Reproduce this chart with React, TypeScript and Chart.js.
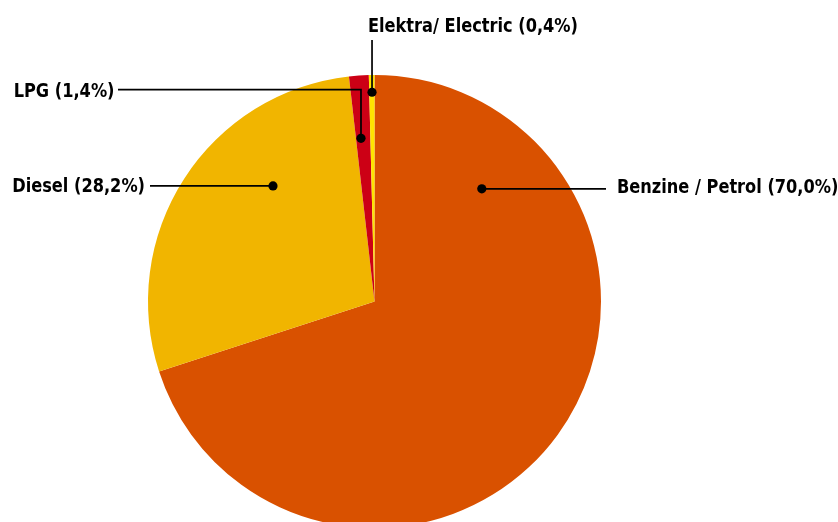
import React, { useEffect, useRef } from "react";
import { Chart, registerables } from "chart.js";

Chart.register(...registerables);

const categories = ["Benzine / Petrol", "Diesel", "LPG", "Elektra/ Electric"];
const shares = [70.0, 28.2, 1.4, 0.4];
const labelTexts = [
  "Benzine / Petrol (70,0%)",
  "Diesel (28,2%)",
  "LPG (1,4%)",
  "Elektra/ Electric (0,4%)",
];
const colors = ["#D95100", "#F1B500", "#CC0015", "#FFE400"];

// dot anchor inside each slice: fraction of slice angle, fraction of radius
const dotAngleFrac = [0.173, 0.657, 0.347, 0.53];
const dotRadiusFrac = [0.687, 0.679, 0.723, 0.924];

// label placement
type LabelCfg = {
  kind: "h" | "elbow" | "v";
  lineEnd: number;
  lineY?: number;
  textX: number;
  textY: number; // baseline
  align: CanvasTextAlign;
};
const labelCfg: LabelCfg[] = [
  { kind: "h", lineEnd: 606, textX: 617, textY: 193, align: "left" },
  { kind: "h", lineEnd: 150, textX: 145, textY: 192, align: "right" },
  { kind: "elbow", lineEnd: 118, lineY: 89.7, textX: 114.5, textY: 97, align: "right" },
  { kind: "v", lineEnd: 40, textX: 368, textY: 32, align: "left" },
];

const FONT = "bold 20px 'DejaVu Sans Condensed', 'DejaVu Sans', sans-serif";
const TEXT_SCALE_X = 0.9;

const leaderPlugin = {
  id: "leaders",
  afterDraw(chart: any) {
    const ctx = chart.ctx as CanvasRenderingContext2D;
    const meta = chart.getDatasetMeta(0);
    ctx.save();
    ctx.strokeStyle = "#000";
    ctx.fillStyle = "#000";
    ctx.lineWidth = 1.7;
    ctx.font = FONT;
    ctx.textBaseline = "alphabetic";
    meta.data.forEach((arc: any, i: number) => {
      const p = arc.getProps(["x", "y", "startAngle", "endAngle", "outerRadius"], true);
      const a = p.startAngle + dotAngleFrac[i] * (p.endAngle - p.startAngle);
      const r = dotRadiusFrac[i] * p.outerRadius;
      const dx = p.x + Math.cos(a) * r;
      const dy = p.y + Math.sin(a) * r;
      const cfg = labelCfg[i];
      ctx.beginPath();
      if (cfg.kind === "h") {
        ctx.moveTo(dx, dy);
        ctx.lineTo(cfg.lineEnd, dy);
      } else if (cfg.kind === "v") {
        ctx.moveTo(dx, dy);
        ctx.lineTo(dx, cfg.lineEnd);
      } else {
        ctx.moveTo(dx, dy);
        ctx.lineTo(dx, cfg.lineY as number);
        ctx.lineTo(cfg.lineEnd, cfg.lineY as number);
      }
      ctx.stroke();
      ctx.beginPath();
      ctx.arc(dx, dy, 4.6, 0, Math.PI * 2);
      ctx.fill();
      ctx.save();
      ctx.translate(cfg.textX, cfg.textY);
      ctx.scale(TEXT_SCALE_X, 1);
      ctx.textAlign = cfg.align;
      ctx.fillText(labelTexts[i], 0, 0);
      ctx.restore();
    });
    ctx.restore();
  },
};

export default function App() {
  const ref = useRef<HTMLCanvasElement | null>(null);
  useEffect(() => {
    if (!ref.current) return;
    const chart = new Chart(ref.current, {
      type: "pie",
      data: {
        labels: categories,
        datasets: [
          {
            data: shares,
            backgroundColor: colors,
            borderWidth: 0,
          },
        ],
      },
      options: {
        responsive: false,
        animation: false,
        layout: { padding: { left: 148, right: 237, top: 75, bottom: 72 } },
        plugins: { legend: { display: false }, tooltip: { enabled: false } },
      },
      plugins: [leaderPlugin],
    });
    return () => chart.destroy();
  }, []);
  return (
    <div
      style={{
        position: "fixed",
        left: 0,
        top: 0,
        width: 838,
        height: 522,
        overflow: "hidden",
        background: "#fff",
      }}
    >
      <canvas ref={ref} width={838} height={600} style={{ display: "block" }} />
    </div>
  );
}
